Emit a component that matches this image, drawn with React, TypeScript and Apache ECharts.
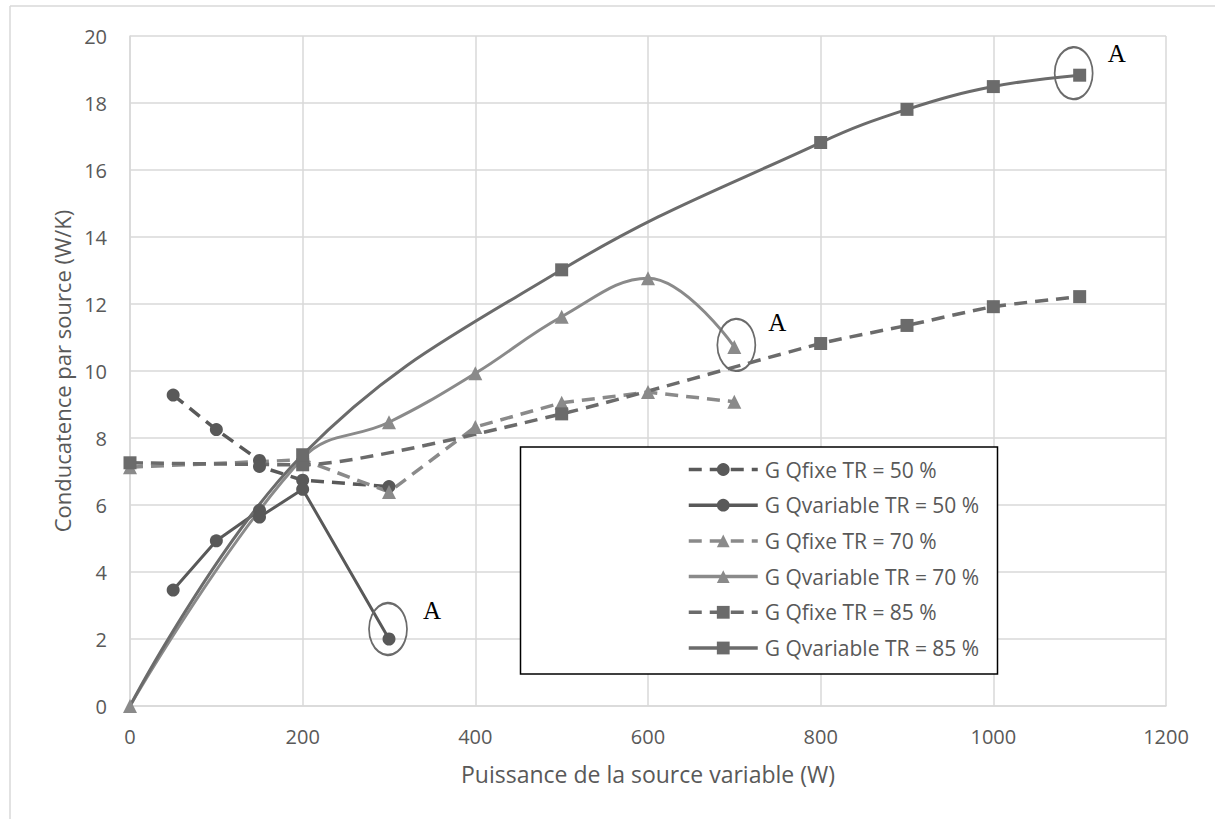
import React, { useEffect, useRef } from "react";
import * as echarts from "echarts";

const seriesNames = [
  "G Qfixe TR = 50 %",
  "G Qvariable TR = 50 %",
  "G Qfixe TR = 70 %",
  "G Qvariable TR = 70 %",
  "G Qfixe TR = 85 %",
  "G Qvariable TR = 85 %",
];

const qfixe50X = [50, 100, 150, 150, 200, 300];
const qfixe50Y = [9.28, 8.25, 7.33, 7.15, 6.74, 6.55];
const qvar50X = [50, 100, 150, 150, 200, 300];
const qvar50Y = [3.46, 4.93, 5.84, 5.64, 6.47, 2.0];
const qfixe70X = [0, 200, 300, 400, 500, 600, 700];
const qfixe70Y = [7.13, 7.35, 6.39, 8.33, 9.05, 9.37, 9.08];
const qvar70X = [0, 200, 300, 400, 500, 600, 700];
const qvar70Y = [0, 7.4, 8.47, 9.93, 11.62, 12.77, 10.72];
const qfixe85X = [0, 200, 500, 800, 900, 1000, 1100];
const qfixe85Y = [7.26, 7.2, 8.72, 10.82, 11.36, 11.92, 12.22];
const qvar85X = [0, 200, 500, 800, 900, 1000, 1100];
const qvar85Y = [0, 7.5, 13.02, 16.82, 17.81, 18.49, 18.83];

// annotated points "A"
const annot50 = [300, 2.0];
const annot70 = [700, 10.72];
const annot85 = [1100, 18.83];

const xTicks = { min: 0, max: 1200, interval: 200 };
const yTicks = { min: 0, max: 20, interval: 2 };

const pair = (xs: number[], ys: number[], hideFirst = false) =>
  xs.map((x, i) =>
    hideFirst && i === 0 ? { value: [x, ys[i]], symbol: "none" } : [x, ys[i]]
  );

const C50 = "#595959";
const C70 = "#8a8a8a";
const C85 = "#6b6b6b";
const DASH = [13, 8];
const FONT = "'Open Sans', 'Noto Sans', sans-serif";

function annotation(coord: number[], ellOffset: number[], aOffset: number[]) {
  return [
    {
      coord,
      symbol: "circle",
      symbolSize: [38, 52],
      symbolOffset: ellOffset,
      itemStyle: { color: "rgba(0,0,0,0)", borderColor: "#6b6b6b", borderWidth: 2 },
      label: { show: false },
    },
    {
      coord,
      symbol: "circle",
      symbolSize: 1,
      itemStyle: { color: "rgba(0,0,0,0)" },
      label: {
        show: true,
        formatter: "A",
        position: "inside",
        offset: aOffset,
        color: "#000",
        fontSize: 25,
        fontFamily: "'Liberation Serif', 'DejaVu Serif', serif",
      },
    },
  ];
}

export default function App() {
  const ref = useRef<HTMLDivElement>(null);
  useEffect(() => {
    if (!ref.current) return;
    const chart = echarts.init(ref.current, null, { renderer: "svg" });
    const mk = (
      name: string,
      data: any[],
      color: string,
      symbol: string,
      size: number,
      dashed: boolean,
      smooth: number | boolean,
      markData?: any[]
    ) => ({
      name,
      type: "line",
      data,
      symbol,
      symbolSize: size,
      smooth,
      showSymbol: true,
      itemStyle: { color },
      lineStyle: { color, width: dashed ? 3.5 : 3, type: dashed ? DASH : "solid" },
      markPoint: markData
        ? { silent: true, animation: false, data: markData }
        : undefined,
      z: 3,
    });
    chart.setOption({
      animation: false,
      backgroundColor: "#ffffff",
      grid: { left: 130, right: 49, top: 36, bottom: 113, containLabel: false },
      legend: {
        orient: "vertical",
        left: 682,
        top: 454,
        z: 10,
        itemWidth: 69,
        itemHeight: 16,
        itemGap: 14.7,
        selectedMode: false,
        data: seriesNames,
        lineStyle: { width: 3.5 },
        textStyle: { color: "#595959", fontSize: 21, fontFamily: FONT, padding: [0, 0, 0, 2] },
      },
      xAxis: {
        type: "value",
        ...xTicks,
        name: "Puissance de la source variable (W)",
        nameLocation: "middle",
        nameGap: 56,
        nameTextStyle: { color: "#595959", fontSize: 23, fontFamily: FONT },
        axisLine: { show: true, lineStyle: { color: "#d9d9d9", width: 1.5 } },
        axisTick: { show: false },
        axisLabel: {
          color: "#595959",
          fontSize: 20,
          fontFamily: FONT,
          margin: 20,
          formatter: (v: number) => String(v),
        },
        splitLine: { show: true, lineStyle: { color: "#d9d9d9", width: 1.5 } },
      },
      yAxis: {
        type: "value",
        ...yTicks,
        name: "Conducatence par source (W/K)",
        nameLocation: "middle",
        nameGap: 57,
        nameRotate: 90,
        nameTextStyle: { color: "#595959", fontSize: 22, fontFamily: FONT },
        axisLine: { show: true, lineStyle: { color: "#d9d9d9", width: 1.5 } },
        axisTick: { show: false },
        axisLabel: {
          color: "#595959",
          fontSize: 20,
          fontFamily: FONT,
          margin: 23,
          formatter: (v: number) => String(v),
        },
        splitLine: { show: true, lineStyle: { color: "#d9d9d9", width: 1.5 } },
      },
      graphic: [
        {
          type: "line",
          shape: { x1: 10, y1: 6, x2: 1215, y2: 6 },
          style: { stroke: "#d9d9d9", lineWidth: 1.5 },
          silent: true,
        },
        {
          type: "line",
          shape: { x1: 10, y1: 6, x2: 10, y2: 819 },
          style: { stroke: "#d9d9d9", lineWidth: 1.5 },
          silent: true,
        },
        {
          type: "rect",
          shape: { x: 520.5, y: 447, width: 477, height: 227 },
          style: { fill: "#ffffff", stroke: "#000000", lineWidth: 1.5 },
          z: 4,
          silent: true,
        },
      ],
      series: [
        mk(seriesNames[0], pair(qfixe50X, qfixe50Y), C50, "circle", 13, true, false),
        mk(
          seriesNames[1],
          pair(qvar50X, qvar50Y),
          C50,
          "circle",
          13,
          false,
          false,
          annotation(annot50, [-1, -10], [43, -29])
        ),
        mk(seriesNames[2], pair(qfixe70X, qfixe70Y), C70, "triangle", 14, true, false),
        mk(
          seriesNames[3],
          pair(qvar70X, qvar70Y),
          C70,
          "triangle",
          14,
          false,
          0.4,
          annotation(annot70, [2, -2], [43, -24])
        ),
        mk(seriesNames[4], pair(qfixe85X, qfixe85Y), C85, "rect", 13, true, 0.2),
        mk(
          seriesNames[5],
          pair(qvar85X, qvar85Y, true),
          C85,
          "rect",
          13,
          false,
          0.4,
          annotation(annot85, [-6, -2], [37, -22])
        ),
      ],
    });
    return () => chart.dispose();
  }, []);
  return (
    <div
      ref={ref}
      style={{ position: "fixed", left: 0, top: 0, width: 1215, height: 819, background: "#fff" }}
    />
  );
}
